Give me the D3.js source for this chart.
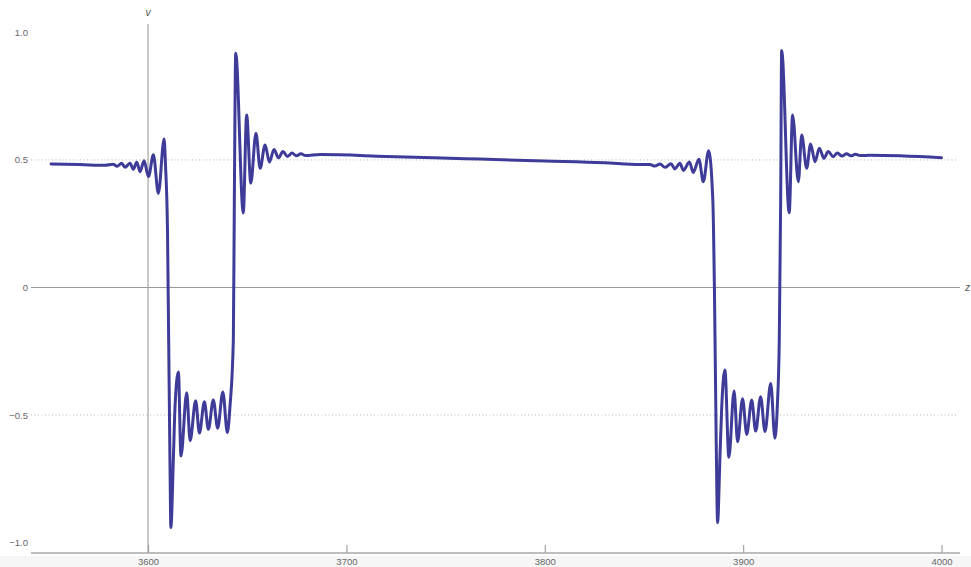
<!DOCTYPE html>
<html>
<head>
<meta charset="utf-8">
<script src="https://cdn.jsdelivr.net/npm/d3@7"></script>
<style>
  html, body { margin: 0; padding: 0; background: #fff; }
  svg { display: block; }
  text { font-family: "Liberation Sans", Arial, sans-serif; }
</style>
</head>
<body>
<svg id="chart" width="971" height="567"></svg>
<script>
// ---- data ----
const zValues = [
  3551.1, 3565.7, 3578.3, 3582.4, 3584.4, 3586.7, 3588.4, 3590.9, 3592.6, 3594.3,
  3596.0, 3598.0, 3600.2, 3602.7, 3605.2, 3608.1, 3608.8, 3609.8, 3610.4, 3611.1,
  3611.5, 3612.8, 3613.6, 3615.3, 3616.6, 3619.5, 3621.2, 3624.0, 3625.9, 3628.4,
  3630.4, 3632.9, 3635.1, 3637.7, 3640.0, 3641.3, 3643.0, 3643.5, 3644.2, 3648.0,
  3649.7, 3651.8, 3654.4, 3656.5, 3659.0, 3661.2, 3663.5, 3665.8, 3668.0, 3670.3,
  3672.6, 3674.8, 3677.1, 3679.4, 3686.7, 3720.0, 3760.0, 3800.0, 3830.0, 3848.0,
  3853.0, 3855.5, 3858.1, 3860.6, 3863.6, 3865.6, 3868.1, 3869.9, 3872.9, 3874.8,
  3877.7, 3879.9, 3882.6, 3884.7, 3885.5, 3886.4, 3887.1, 3888.3, 3889.2, 3890.8,
  3892.8, 3895.4, 3897.2, 3899.7, 3901.8, 3904.3, 3906.3, 3908.8, 3911.0, 3913.9,
  3916.0, 3917.2, 3918.2, 3918.9, 3919.4, 3923.2, 3924.9, 3927.8, 3929.5, 3932.0,
  3934.0, 3936.2, 3938.4, 3940.7, 3942.9, 3945.3, 3947.5, 3949.8, 3952.1, 3954.3,
  3956.6, 3958.9, 3963.9, 4000.0
];
const vValues = [
  0.484, 0.482, 0.479, 0.483, 0.475, 0.487, 0.471, 0.487, 0.464, 0.491,
  0.454, 0.497, 0.435, 0.520, 0.369, 0.582, 0.480, 0.225, -0.206, -0.716,
  -0.941, -0.663, -0.467, -0.331, -0.661, -0.413, -0.601, -0.444, -0.571, -0.448,
  -0.556, -0.441, -0.552, -0.410, -0.569, -0.467, -0.206, 0.343, 0.918, 0.292,
  0.676, 0.409, 0.605, 0.467, 0.559, 0.492, 0.541, 0.508, 0.533, 0.514,
  0.527, 0.516, 0.524, 0.517, 0.521, 0.514, 0.505, 0.496, 0.489, 0.482,
  0.482, 0.476, 0.484, 0.471, 0.485, 0.465, 0.487, 0.459, 0.492, 0.451,
  0.503, 0.415, 0.536, 0.343, 0.000, -0.598, -0.922, -0.663, -0.467, -0.324,
  -0.666, -0.406, -0.605, -0.436, -0.576, -0.441, -0.563, -0.428, -0.565, -0.376,
  -0.591, -0.467, -0.206, 0.343, 0.929, 0.293, 0.676, 0.415, 0.598, 0.467,
  0.563, 0.493, 0.546, 0.507, 0.533, 0.513, 0.527, 0.515, 0.524, 0.516,
  0.522, 0.517, 0.518, 0.509
];
const xTicks = [3600, 3700, 3800, 3900, 4000];
const xTickLabels = ["3600", "3700", "3800", "3900", "4000"];
const yTicks = [1.0, 0.5, 0, -0.5, -1.0];
const yTickLabels = ["1.0", "0.5", "0", "\u22120.5", "\u22121.0"];
const gridValues = [0.5, -0.5];
const xDomain = [3541.0, 4009.3];
const yDomain = [-1.041, 1.033];
const xAxisLabel = "z";
const yAxisLabel = "v";

(function () {
  // ---- layout ----
  const W = 971, H = 567;
  const pL = 31, pR = 960, pT = 24, pB = 553;
  const svg = d3.select("#chart");

  const x = d3.scaleLinear().domain(xDomain).range([pL, pR]);
  const y = d3.scaleLinear().domain(yDomain).range([pB, pT]);

  // faint strip under the frame
  svg.append("rect").attr("x", 0).attr("y", pB + 3).attr("width", W).attr("height", H - pB - 3)
    .attr("fill", "#f6f6f6");

  // dotted gridlines
  svg.append("g").selectAll("line").data(gridValues).join("line")
    .attr("x1", pL).attr("x2", pR - 2)
    .attr("y1", d => y(d)).attr("y2", d => y(d))
    .attr("stroke", "#b5b5b5").attr("stroke-width", 1)
    .attr("stroke-dasharray", "1,2.5");

  // zero (z) axis
  svg.append("line")
    .attr("x1", pL).attr("x2", pR)
    .attr("y1", y(0)).attr("y2", y(0))
    .attr("stroke", "#9a9a9a").attr("stroke-width", 1.1);

  // v axis at z = 3600
  svg.append("line")
    .attr("x1", x(3600)).attr("x2", x(3600))
    .attr("y1", pT).attr("y2", pB)
    .attr("stroke", "#9a9a9a").attr("stroke-width", 1.1);

  // bottom frame axis
  const xAxis = d3.axisBottom(x).tickValues(xTicks)
    .tickFormat((d, i) => xTickLabels[i])
    .tickSizeInner(-8).tickSizeOuter(0).tickPadding(5);
  const gx = svg.append("g").attr("transform", `translate(0,${pB})`).call(xAxis);
  gx.select(".domain").remove();
  gx.append("line").attr("x1", pL).attr("x2", pR).attr("y1", 0).attr("y2", 0)
    .attr("stroke", "#a8a8a8").attr("stroke-width", 1.5);
  gx.selectAll(".tick line").attr("stroke", "#9a9a9a").attr("stroke-width", 1.1);
  gx.selectAll(".tick text").attr("fill", "#666").attr("font-size", 9.5);

  // left labels
  const yAxis = d3.axisLeft(y).tickValues(yTicks)
    .tickFormat((d, i) => yTickLabels[i])
    .tickSize(0).tickPadding(3);
  const gy = svg.append("g").attr("transform", `translate(${pL},0)`).call(yAxis);
  gy.select(".domain").remove();
  gy.selectAll(".tick text").attr("fill", "#666").attr("font-size", 9.5);

  // axis labels
  svg.append("text").attr("x", x(3600)).attr("y", 16).attr("text-anchor", "middle")
    .attr("font-style", "italic").attr("font-size", 10.5).attr("fill", "#555").text(yAxisLabel);
  svg.append("text").attr("x", 965).attr("y", y(0) + 4).attr("text-anchor", "start")
    .attr("font-style", "italic").attr("font-size", 10.5).attr("fill", "#555").text(xAxisLabel);

  // the curve
  const pts = zValues.map((z, i) => [z, vValues[i]]);
  const line = d3.line().x(d => x(d[0])).y(d => y(d[1])).curve(d3.curveMonotoneX);
  svg.append("path").datum(pts)
    .attr("d", line)
    .attr("fill", "none")
    .attr("stroke", "#3e3c98")
    .attr("stroke-width", 3)
    .attr("stroke-linejoin", "round")
    .attr("stroke-linecap", "round");
})();
</script>
</body>
</html>
